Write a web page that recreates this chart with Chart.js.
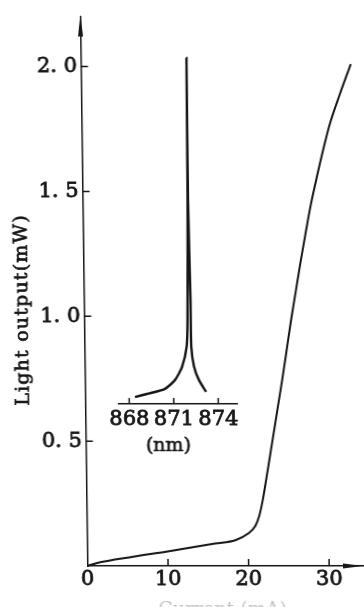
<!DOCTYPE html>
<html>
<head>
<meta charset="utf-8">
<script src="https://cdn.jsdelivr.net/npm/chart.js@4.4.1/dist/chart.umd.min.js"></script>
<style>
  html, body { margin: 0; padding: 0; background: #fff; overflow: hidden; }
  /* the scanned figure leans a little, so the whole plot is skewed to match */
  #wrap { position: relative; width: 364px; height: 607px; transform: skewX(0.75deg); transform-origin: 0 566px; }
  #wrap canvas { position: absolute; left: 0; top: 0; }
</style>
</head>
<body>
<div id="wrap">
  <canvas id="main" width="364" height="607"></canvas>
  <canvas id="inset" width="364" height="607"></canvas>
</div>
<script>
// main curve: current (mA) vs light output (mW)
const currentMA = [0, 1.1, 5.7, 9.8, 15.9, 18.4, 20.0, 20.9, 21.4, 21.9, 22.4, 23.1, 23.8, 24.5, 25.1, 25.7, 26.3, 26.9, 27.6, 28.2, 28.9, 29.8, 30.8, 32.1, 33.5];
const lightMW   = [0, 0.011, 0.037, 0.057, 0.090, 0.103, 0.130, 0.160, 0.20, 0.27, 0.36, 0.49, 0.62, 0.75, 0.87, 0.99, 1.10, 1.21, 1.33, 1.43, 1.53, 1.65, 1.77, 1.89, 2.01];
const xTickValues = [0, 10, 20, 30];
const yTickValues = [0.5, 1.0, 1.5, 2.0];

// inset: lasing spectrum (arbitrary intensity)
const wavelengthNM = [868.39, 869.20, 870.39, 871.10, 871.59, 871.92, 872.00, 872.11, 872.16, 872.14, 872.22, 872.23, 872.40, 872.72, 873.19];
const intensity    = [2.0, 2.9, 4.3, 6.9, 10.7, 16.6, 24.3, 59, 100, 59, 30, 16.6, 10.8, 6.9, 3.5];
const nmTickValues = [868, 871, 874];

const INK = '#161616';
const tickFont = { family: 'DejaVu Serif', size: 21 };

const toPoints = (xs, ys) => xs.map((x, i) => ({ x: x, y: ys[i] }));

const mainDecor = {
  id: 'mainDecor',
  afterDraw(chart) {
    const { ctx, chartArea: a, scales: { x, y } } = chart;
    ctx.save();
    ctx.strokeStyle = INK;
    ctx.fillStyle = INK;
    ctx.lineWidth = 1.5;
    // inward tick marks
    ctx.beginPath();
    yTickValues.forEach(v => {
      const py = y.getPixelForValue(v);
      ctx.moveTo(a.left, py);
      ctx.lineTo(a.left + 7, py);
    });
    xTickValues.slice(1).forEach(v => {
      const px = x.getPixelForValue(v);
      ctx.moveTo(px, a.bottom);
      ctx.lineTo(px, a.bottom - 7);
    });
    ctx.stroke();
    // arrow heads
    ctx.beginPath();
    ctx.moveTo(a.left, a.top - 2);
    ctx.lineTo(a.left - 2.5, a.top + 20);
    ctx.lineTo(a.left + 2.5, a.top + 20);
    ctx.closePath();
    ctx.fill();
    ctx.beginPath();
    ctx.moveTo(a.right, a.bottom);
    ctx.lineTo(a.right - 20, a.bottom - 2.5);
    ctx.lineTo(a.right - 20, a.bottom + 2.5);
    ctx.closePath();
    ctx.fill();
    // x title, mostly cut off at the bottom edge in the scan
    ctx.fillStyle = '#c4c4c4';
    ctx.font = '19px "DejaVu Serif"';
    ctx.textAlign = 'center';
    ctx.textBaseline = 'top';
    ctx.fillText('Current (mA)', 222, 601);
    // y title
    ctx.fillStyle = INK;
    ctx.lineWidth = 0.7;
    ctx.translate(26, 310);
    ctx.rotate(-Math.PI / 2);
    ctx.letterSpacing = '1.2px';
    ctx.textBaseline = 'middle';
    ctx.fillText('Light output(mW)', 0, 0);
    ctx.strokeText('Light output(mW)', 0, 0);
    ctx.restore();
  }
};

const insetDecor = {
  id: 'insetDecor',
  afterDraw(chart) {
    const { ctx, chartArea: a, scales: { x } } = chart;
    ctx.save();
    ctx.strokeStyle = INK;
    ctx.fillStyle = INK;
    ctx.lineWidth = 1.5;
    ctx.beginPath();
    nmTickValues.forEach(v => {
      const px = x.getPixelForValue(v);
      ctx.moveTo(px, a.bottom);
      ctx.lineTo(px, a.bottom - 6);
    });
    ctx.stroke();
    ctx.font = '19px "DejaVu Serif"';
    ctx.textAlign = 'center';
    ctx.textBaseline = 'middle';
    ctx.lineWidth = 0.7;
    ctx.fillText('(nm)', 170, 446);
    ctx.strokeText('(nm)', 170, 446);
    ctx.restore();
  }
};

new Chart(document.getElementById('main'), {
  type: 'scatter',
  data: {
    datasets: [{
      data: toPoints(currentMA, lightMW),
      showLine: true,
      borderColor: INK,
      borderWidth: 2,
      pointRadius: 0,
      cubicInterpolationMode: 'monotone',
      clip: false
    }]
  },
  options: {
    responsive: false,
    animation: false,
    events: [],
    layout: { padding: { left: 0, top: 11.6, right: 1, bottom: 11 } },
    plugins: { legend: { display: false }, tooltip: { enabled: false } },
    scales: {
      x: {
        type: 'linear', min: 0, max: 34.2,
        grid: { display: false, drawTicks: false },
        border: { display: true, color: INK, width: 1.5 },
        ticks: {
          font: tickFont, color: INK, padding: 1, autoSkip: false, maxRotation: 0,
          textStrokeColor: INK, textStrokeWidth: 0.8
        },
        afterBuildTicks: s => { s.ticks = xTickValues.map(v => ({ value: v })); },
        afterFit: s => { s.height = 30; }
      },
      y: {
        type: 'linear', min: 0, max: 2.2,
        grid: { display: false, drawTicks: false },
        border: { display: true, color: INK, width: 1.5 },
        ticks: {
          font: tickFont, color: INK, padding: 4, autoSkip: false,
          textStrokeColor: INK, textStrokeWidth: 0.8,
          callback: v => v.toFixed(1).replace('.', '. ')
        },
        afterBuildTicks: s => { s.ticks = yTickValues.map(v => ({ value: v })); },
        afterFit: s => { s.width = 87.5; }
      }
    }
  },
  plugins: [mainDecor]
});

new Chart(document.getElementById('inset'), {
  type: 'scatter',
  data: {
    datasets: [{
      data: toPoints(wavelengthNM, intensity),
      showLine: true,
      borderColor: INK,
      borderWidth: 2.4,
      pointRadius: 0,
      tension: 0.2,
      clip: false
    }]
  },
  options: {
    responsive: false,
    animation: false,
    events: [],
    layout: { padding: { left: 121, right: 124.3, top: 58, bottom: 173 } },
    plugins: { legend: { display: false }, tooltip: { enabled: false } },
    scales: {
      x: {
        type: 'linear', min: 867.3, max: 875.3,
        grid: { display: false, drawTicks: false },
        border: { display: true, color: INK, width: 1.5 },
        ticks: {
          font: tickFont, color: INK, padding: 3, autoSkip: false, maxRotation: 0,
          textStrokeColor: INK, textStrokeWidth: 0.8,
          callback: v => String(v)
        },
        afterBuildTicks: s => { s.ticks = nmTickValues.map(v => ({ value: v })); },
        afterFit: s => { s.height = 30; }
      },
      y: { type: 'linear', min: 0, max: 100, display: false }
    }
  },
  plugins: [insetDecor]
});
</script>
</body>
</html>
